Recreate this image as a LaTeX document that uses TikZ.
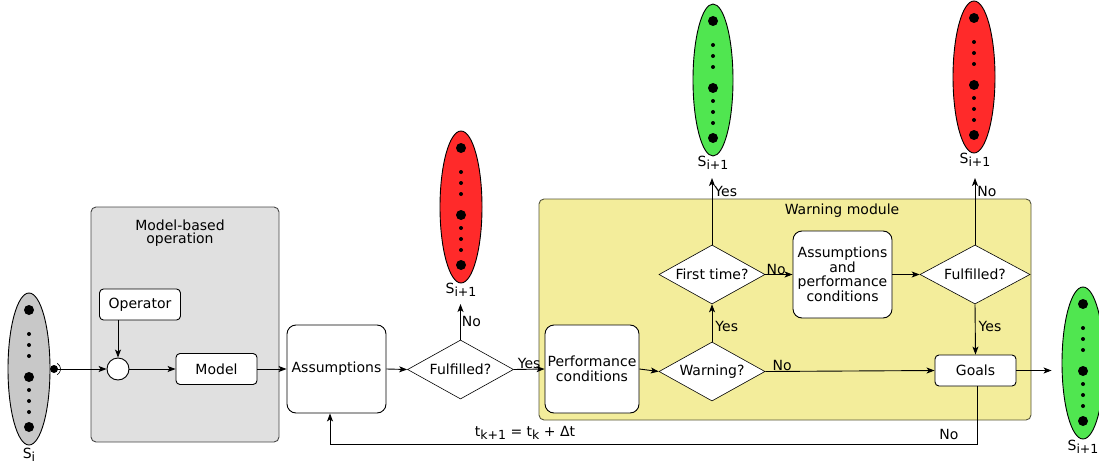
\documentclass[tikz,border=0pt]{standalone}
\usepackage{fontspec}
\setmainfont{DejaVu Sans}
\usetikzlibrary{shapes.geometric,arrows.meta}
\definecolor{grayfill}{RGB}{224,224,224}
\definecolor{grayedge}{RGB}{70,70,70}
\definecolor{statgray}{RGB}{200,200,200}
\definecolor{yellowfill}{RGB}{243,237,155}
\definecolor{yellowedge}{RGB}{85,85,60}
\definecolor{sred}{RGB}{255,42,42}
\definecolor{sgreen}{RGB}{80,230,80}
\newcommand\Sub[1]{\raisebox{-3.5pt}{\fontsize{12.5}{12}\selectfont #1}}
\newcommand\statedots[1]{%
  \foreach \dy in {-59,8,58}{\fill (#1.center) ++(0,\dy) circle (5pt);}%
  \foreach \dy in {-35,-24,-13,21,32,43}{\fill (#1.center) ++(0,\dy) circle (2pt);}%
}
\begin{document}
\begin{tikzpicture}[x=1pt,y=-1pt,
  font=\fontsize{14}{16.5}\selectfont,
  >={Stealth[length=8pt,width=6pt,inset=2pt]},
  line width=0.9pt,
  conn/.style={->},
  state/.style={ellipse,draw,line width=0.9pt,minimum width=42pt,minimum height=152pt,inner sep=0pt},
  smallbox/.style={draw,fill=white,rounded corners=4pt,minimum width=81pt,minimum height=31pt,inner sep=0pt},
  bigbox/.style={draw,fill=white,rounded corners=9pt,minimum width=99pt,minimum height=88pt,inner sep=0pt,align=center},
  decision/.style={diamond,aspect=1.8,draw,fill=white,line width=0.6pt,inner sep=0pt,minimum width=106pt,minimum height=59pt},
  lbl/.style={inner sep=1pt},
  ]
\useasboundingbox (0,0) rectangle (1099,468);
% containers
\node[draw=grayedge,fill=grayfill,rounded corners=5pt,minimum width=188pt,minimum height=235pt,inner sep=0pt] (mbo) at (185,324.5) {};
\node[align=center,anchor=north] (mbotitle) at (180,216) {Model-based\\[-3pt]operation};
\node[draw=yellowedge,fill=yellowfill,rounded corners=5pt,minimum width=492pt,minimum height=221pt,inner sep=0pt] (wm) at (785,309.5) {};
\node[anchor=north] (wmtitle) at (842,200) {Warning module};

% states
\node[state,fill=statgray] (si) at (29,369) {};
\statedots{si}
\node (silbl) at (29,455) {S\Sub{i}};

\node[state,fill=sred] (r1) at (461,207) {};
\statedots{r1}
\node (r1lbl) at (461,290) {S\Sub{i+1}};

\node[state,fill=sgreen,minimum width=40pt] (g1) at (713,80) {};
\statedots{g1}
\node (g1lbl) at (713,163) {S\Sub{i+1}};

\node[state,fill=sred] (r2) at (974,77) {};
\statedots{r2}
\node (r2lbl) at (975,160) {S\Sub{i+1}};

\node[state,fill=sgreen] (g2) at (1083,363) {};
\statedots{g2}
\node (g2lbl) at (1083,447) {S\Sub{i+1}};

% model-based operation
\node[smallbox] (op) at (140,304.5) {Operator};
\node[circle,draw,fill=white,minimum size=22pt,inner sep=0pt] (junc) at (118,369) {};
\node[smallbox] (model) at (216.5,369) {Model};

\node[bigbox] (ass) at (336.5,369) {Assumptions};
\node[decision] (ful1) at (460.5,369.5) {Fulfilled?};

\node[bigbox,minimum width=94pt] (perf) at (592,369) {Performance\\[-2pt]conditions};
\node[decision] (warn) at (712,371.5) {Warning?};
\node[decision] (first) at (712,274.5) {First time?};
\node[bigbox,minimum height=87pt] (apc) at (842.5,274.5) {Assumptions\\[-2pt]and\\[-2pt]performance\\[-2pt]conditions};
\node[decision,minimum width=110pt] (ful2) at (975,274.5) {Fulfilled?};
\node[smallbox] (goals) at (975.5,370.5) {Goals};

% connectors
\coordinate (sock) at (54,369);
\draw[conn] (sock) -- (junc.west);
\fill (sock) circle (4pt);
\draw[line width=0.6pt] (sock) ++(-60:6.5pt) arc (-60:60:6.5pt);
\draw[conn] (op.south -| junc.north) -- (junc.north);
\draw[conn] (junc.east) -- (model.west);
\draw[conn] (model.east) -- (ass.west);
\draw[conn] (ass.east) -- (ful1.west);
\coordinate (r1tip) at (460.5,304);
\coordinate (g1tip) at (712,178);
\coordinate (r2tip) at (975,178);
\draw[conn] (ful1.north) -- (r1tip) node[lbl,pos=0.5,right] (no1) {No};
\draw[conn] (ful1.east) -- (perf.west) node[lbl,midway,above,yshift=-1pt] (yes1) {Yes};
\draw[conn] (perf.east) -- (warn.west);
\draw[conn] (warn.north) -- (first.south) node[lbl,pos=0.4,right,xshift=2pt] (yes2) {Yes};
\draw[conn] (first.north) -- (g1tip) node[lbl,pos=0.8,right,xshift=1pt] (yes3) {Yes};
\draw[conn] (first.east) -- (apc.west) node[lbl,pos=0.4,above,yshift=-2pt] (no2) {No};
\draw[conn] (apc.east) -- (ful2.west);
\draw[conn] (ful2.north) -- (r2tip) node[lbl,pos=0.8,right,xshift=1pt] (no3) {No};
\draw[conn] (ful2.south) -- (goals.north) node[lbl,pos=0.45,right,xshift=2pt] (yes4) {Yes};
\draw[conn] (warn.east) -- (goals.west) node[lbl,pos=0.1,above,yshift=-1pt] (no4) {No};
\draw[conn,shorten >=10pt] (goals.east) -- (g2.west |- goals.east);
\coordinate (fb1) at (977,444);
\coordinate (fb2) at (330,444);
\draw[conn] (goals.south -| fb1) -- (fb1) -- (fb2) -- (ass.south -| fb2);
\node[lbl] (tk) at (525,433) {t\Sub{k+1} = t\Sub{k} + Δt};
\node[lbl] (no5) at (949,434) {No};
\end{tikzpicture}
\end{document}
